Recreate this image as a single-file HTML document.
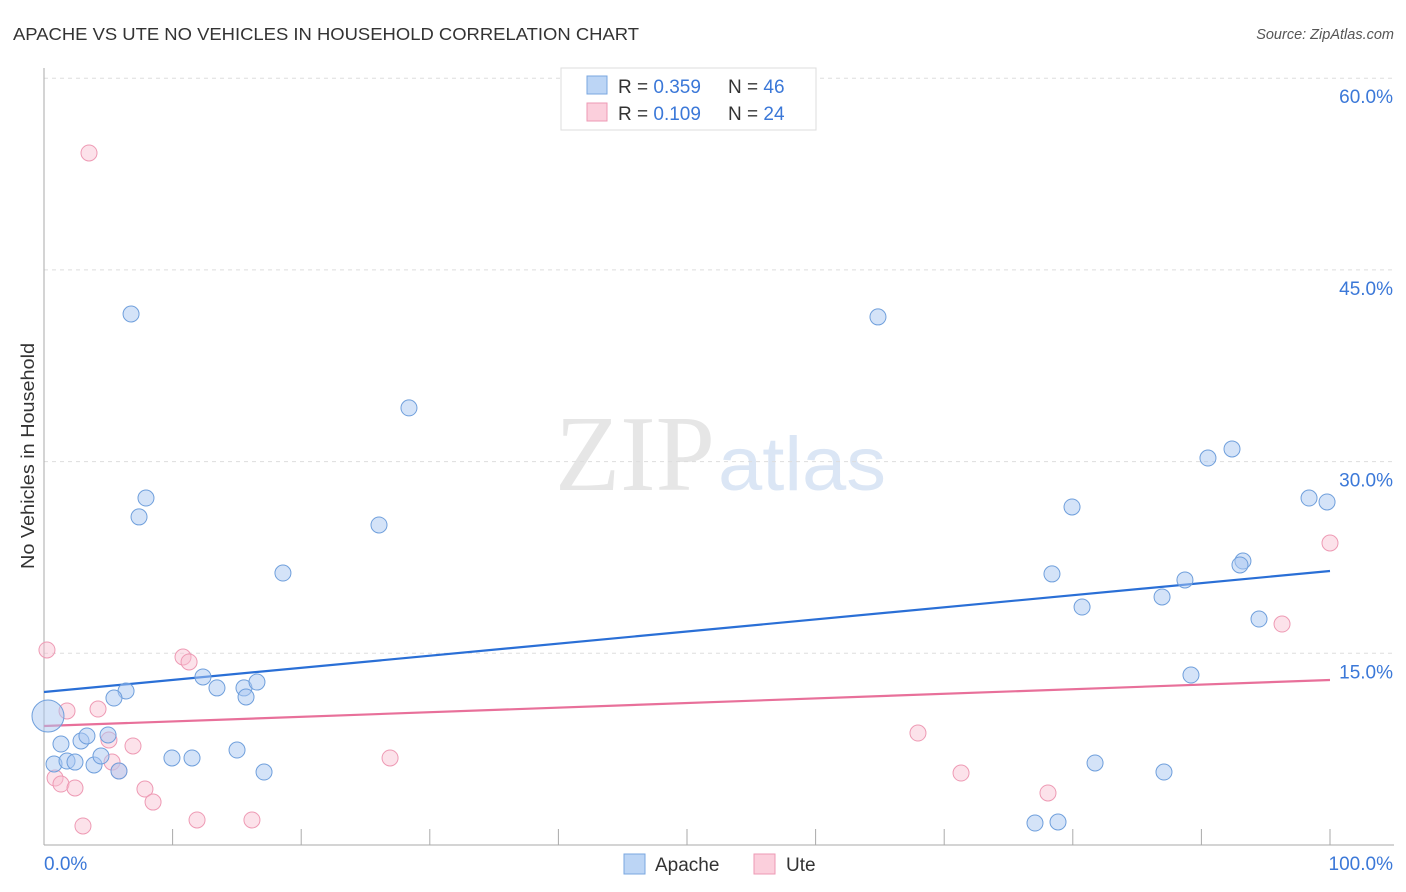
<!DOCTYPE html>
<html><head><meta charset="utf-8"><style>
body{margin:0;background:#fff;font-family:"Liberation Sans",sans-serif;}
svg{display:block}
</style></head><body>
<svg id="chart" width="1406" height="892">
<text x="13" y="40" font-size="17.5" fill="#333" textLength="626" lengthAdjust="spacingAndGlyphs">APACHE VS UTE NO VEHICLES IN HOUSEHOLD CORRELATION CHART</text>
<text x="1394" y="39" font-size="14.5" fill="#555" font-style="italic" text-anchor="end">Source: ZipAtlas.com</text>
<text x="0" y="0" transform="translate(34,456) rotate(-90)" font-size="18" fill="#333" text-anchor="middle" textLength="226" lengthAdjust="spacingAndGlyphs">No Vehicles in Household</text>
<g>
<text x="635" y="490" font-family="Liberation Serif,serif" font-size="108" fill="#e6e6e6" text-anchor="middle" textLength="160" lengthAdjust="spacingAndGlyphs">ZIP</text>
<text x="802" y="490" font-size="76" fill="#dbe6f5" text-anchor="middle" textLength="168" lengthAdjust="spacingAndGlyphs">atlas</text>
</g>
<g id="grid"></g><g id="axes"></g><g id="trends"></g><g id="pts"></g>
<g>
<rect x="561" y="68" width="255" height="62" fill="#fff" stroke="#ddd"/>
<rect x="587" y="76" width="20" height="18" fill="#bcd5f5" stroke="#7aa7e0"/>
<rect x="587" y="103" width="20" height="18" fill="#fbcfdc" stroke="#ee9ab4"/>
<text x="618" y="93" font-size="19" fill="#333">R = <tspan fill="#3b78d8">0.359</tspan><tspan x="728">N = </tspan><tspan fill="#3b78d8">46</tspan></text>
<text x="618" y="120" font-size="19" fill="#333">R = <tspan fill="#3b78d8"> 0.109</tspan><tspan x="728">N = </tspan><tspan fill="#3b78d8">24</tspan></text>
</g>
<g>
<rect x="624" y="854" width="21" height="20" fill="#bcd5f5" stroke="#7aa7e0"/>
<text x="655" y="871" font-size="19" fill="#333">Apache</text>
<rect x="754" y="854" width="21" height="20" fill="#fbcfdc" stroke="#ee9ab4"/>
<text x="786" y="871" font-size="19" fill="#333">Ute</text>
</g>
</svg>
<script>
const yTicks=[15,30,45,60];
const yTickLabels=["15.0%","30.0%","45.0%","60.0%"];
const xTickLabels=["0.0%","100.0%"];
const apacheX=[6.77,64.85,28.38,92.38,90.51,7.93,98.37,99.77,79.94,7.39,26.05,93.23,93.00,18.58,78.38,88.72,86.94,80.72,94.48,89.19,6.38,5.44,12.36,13.45,15.55,16.56,15.71,0.31,1.32,2.88,3.34,4.98,0.78,1.79,2.41,3.89,4.43,5.83,9.95,11.51,15.01,17.11,81.73,87.09,77.06,78.85];
const apacheY=[41.55,41.32,34.2,30.99,30.28,27.15,27.15,26.84,26.45,25.67,25.04,22.22,21.91,21.28,21.21,20.74,19.41,18.62,17.68,13.3,12.05,11.5,13.15,12.29,12.29,12.75,11.58,10.09,7.9,8.14,8.53,8.61,6.34,6.57,6.49,6.26,6.96,5.79,6.81,6.81,7.43,5.71,6.42,5.71,1.72,1.8];
const uteX=[3.5,0.23,10.81,11.28,100,96.27,4.2,1.79,5.05,6.92,5.29,26.91,67.96,0.86,1.32,2.41,7.85,8.48,5.83,71.31,78.07,3.03,11.9,16.17];
const uteY=[54.15,15.26,14.71,14.32,23.63,17.29,10.64,10.49,8.22,7.75,6.49,6.81,8.76,5.24,4.77,4.46,4.38,3.36,5.79,5.63,4.07,1.49,1.96,1.96];
const apacheTrend=[11.97,21.44];
const uteTrend=[9.31,12.91];
const NS="http://www.w3.org/2000/svg";
const X0=44,X1=1330,Y0=845,PER=191.7/15;
const sx=v=>X0+(X1-X0)*v/100, sy=v=>Y0-v*PER;
function mk(tag,attrs,parent){const e=document.createElementNS(NS,tag);for(const k in attrs)e.setAttribute(k,attrs[k]);document.getElementById(parent).appendChild(e);return e;}
yTicks.forEach((t,i)=>{
 const g=mk('line',{x1:X0,x2:1394,y1:sy(t),y2:sy(t),stroke:'#ddd','stroke-dasharray':'4,4'},'grid');
 
 
 const l=mk('text',{x:1393,y:sy(t)+25,'font-size':19,fill:'#3b78d8','text-anchor':'end'},'grid');
 l.textContent=yTickLabels[i];
 
 
});
const ya=mk('line',{x1:X0,x2:X0,y1:68,y2:Y0,stroke:'#aaa'},'axes');


const xa=mk('line',{x1:X0,x2:1394,y1:Y0,y2:Y0,stroke:'#aaa'},'axes');


for(let i=0;i<=10;i++){
 const t=mk('line',{x1:sx(i*10),x2:sx(i*10),y1:Y0-16,y2:Y0,stroke:'#aaa'},'axes');
 
 
}
[[0,'start',44],[100,'end',1393]].forEach((d,i)=>{
 const l=mk('text',{x:d[2],y:870,'font-size':19,fill:'#3b78d8','text-anchor':d[1]},'axes');
 l.textContent=xTickLabels[i];
 
 
});
function pts(xs,ys,fill,stroke,name){
 xs.forEach((x,i)=>{
  const r=(name==='apache-point'&&i===27)?16:8;
  const c=mk('circle',{cx:sx(x),cy:sy(ys[i]),r:r,fill:fill,stroke:stroke,'stroke-width':1},'pts');
  
  
 });
}
pts(uteX,uteY,'rgba(248,190,208,0.45)','#ee9ab4','ute-point');
pts(apacheX,apacheY,'rgba(170,200,242,0.5)','#6f9fdc','apache-point');
const tb=mk('line',{x1:sx(0),x2:sx(100),y1:sy(apacheTrend[0]),y2:sy(apacheTrend[1]),stroke:'#2a6fd6','stroke-width':2.2},'trends');


const tp=mk('line',{x1:sx(0),x2:sx(100),y1:sy(uteTrend[0]),y2:sy(uteTrend[1]),stroke:'#e8709a','stroke-width':2.2},'trends');


</script>
</body></html>
